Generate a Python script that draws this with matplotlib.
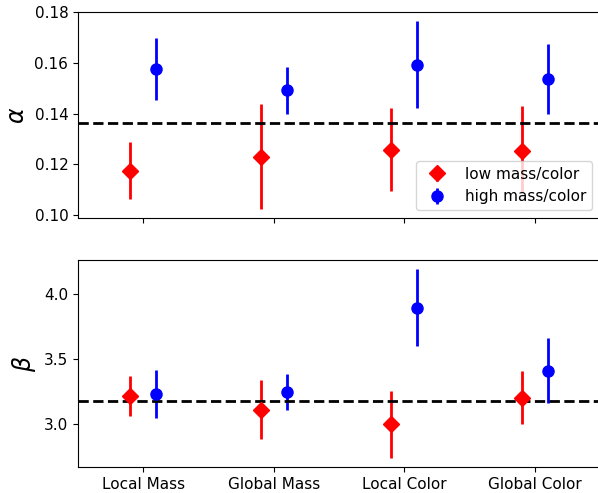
import matplotlib
matplotlib.use("Agg")
import matplotlib.pyplot as plt
import numpy as np

categories = ["Local Mass", "Global Mass", "Local Color", "Global Color"]

alpha_low = [0.1173, 0.1229, 0.1256, 0.1252]
alpha_low_up = [0.1288, 0.1437, 0.1422, 0.1430]
alpha_low_dn = [0.1063, 0.1024, 0.1095, 0.1090]
alpha_high = [0.1575, 0.1493, 0.1591, 0.1536]
alpha_high_up = [0.1698, 0.1583, 0.1765, 0.1674]
alpha_high_dn = [0.1453, 0.1398, 0.1422, 0.1398]
alpha_ref = 0.1363

beta_low = [3.215, 3.108, 2.998, 3.195]
beta_low_up = [3.369, 3.338, 3.254, 3.408]
beta_low_dn = [3.064, 2.885, 2.741, 2.998]
beta_high = [3.228, 3.241, 3.892, 3.408]
beta_high_up = [3.410, 3.382, 4.185, 3.656]
beta_high_dn = [3.048, 3.103, 3.600, 3.159]
beta_ref = 3.179

x = np.arange(len(categories))
off = 0.1

fig = plt.figure(figsize=(5.98, 4.93), dpi=100)
ax1 = fig.add_axes([0.1304, 0.5578, 0.873, 0.4179])
ax2 = fig.add_axes([0.1304, 0.0527, 0.873, 0.4199], sharex=ax1)

def draw(ax, low, lup, ldn, high, hup, hdn, ref):
    low = np.array(low); high = np.array(high)
    lerr = [low - np.array(ldn), np.array(lup) - low]
    herr = [high - np.array(hdn), np.array(hup) - high]
    ax.errorbar(x - off, low, yerr=lerr, fmt='D', color='red', ms=8, elinewidth=2,
                label='low mass/color')
    ax.errorbar(x + off, high, yerr=herr, fmt='o', color='blue', ms=8, elinewidth=2,
                label='high mass/color')
    ax.axhline(ref, color='black', ls='--', lw=2)

draw(ax1, alpha_low, alpha_low_up, alpha_low_dn, alpha_high, alpha_high_up, alpha_high_dn, alpha_ref)
draw(ax2, beta_low, beta_low_up, beta_low_dn, beta_high, beta_high_up, beta_high_dn, beta_ref)

ax1.set_xlim(-0.5, 3.5)
ax1.set_ylim(0.0987, 0.1802)
ax1.set_yticks([0.10, 0.12, 0.14, 0.16, 0.18])
ax2.set_yticks([3.0, 3.5, 4.0])
ax2.set_xticks(x)
ax2.set_xticklabels(categories)
plt.setp(ax1.get_xticklabels(), visible=False)
for ax in (ax1, ax2):
    ax.tick_params(labelsize=11)
ax1.set_ylabel(r'$\alpha$', fontsize=17)
ax2.set_ylabel(r'$\beta$', fontsize=17)
ax1.legend(loc='lower right', fontsize=11)

fig.savefig("out.png", dpi=100)
